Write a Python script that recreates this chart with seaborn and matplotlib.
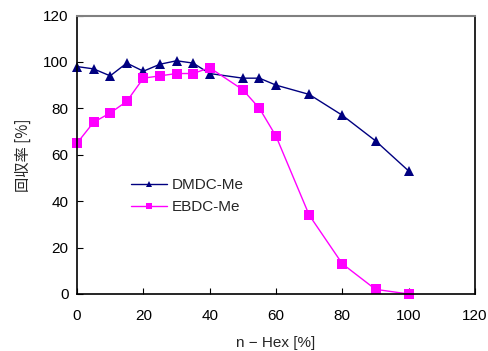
import matplotlib
matplotlib.use("Agg")
import matplotlib.pyplot as plt
import seaborn as sns
import pandas as pd

x_vals = [0, 5, 10, 15, 20, 25, 30, 35, 40, 50, 55, 60, 70, 80, 90, 100]
dmdc_me = [98, 97, 94, 99.5, 96, 99, 100.5, 99.5, 95, 93, 93, 90, 86, 77, 66, 53]
ebdc_me = [65, 74, 78, 83, 93, 94, 95, 95, 97.5, 88, 80, 68, 34, 13, 2, 0]
series_names = ["DMDC-Me", "EBDC-Me"]
x_ticks = [0, 20, 40, 60, 80, 100, 120]
y_ticks = [0, 20, 40, 60, 80, 100, 120]

df = pd.DataFrame({
    "x": x_vals * 2,
    "y": dmdc_me + ebdc_me,
    "series": [series_names[0]] * len(x_vals) + [series_names[1]] * len(x_vals),
})

sns.set_theme(style="white")
plt.rcParams["font.family"] = ["Liberation Sans", "Noto Sans CJK JP", "DejaVu Sans"]

fig = plt.figure(figsize=(4.89, 3.51), dpi=100)
ax = fig.add_axes([0.1575, 0.1624, 0.8139, 0.7934])

palette = {"DMDC-Me": "#000080", "EBDC-Me": "#FF00FF"}
markers = {"DMDC-Me": "^", "EBDC-Me": "s"}
sns.lineplot(data=df, x="x", y="y", hue="series", style="series",
             palette=palette, markers=markers, dashes=False,
             markersize=6.5, linewidth=1.0, markeredgewidth=0,
             ax=ax, clip_on=False)

fs = 11
ax.set_xlim(0, 120)
ax.set_ylim(0, 120)
ax.set_xticks(x_ticks)
ax.set_yticks(y_ticks)
ax.tick_params(direction="in", length=4, width=0.8, labelsize=fs, colors="black",
               bottom=True, left=True, pad=6)
ax.tick_params(axis="x", pad=11)
for side in ["left", "bottom", "right"]:
    ax.spines[side].set_color("black")
    ax.spines[side].set_linewidth(1.2)
ax.spines["top"].set_color("#808080")
ax.spines["top"].set_linewidth(1.5)

ax.set_xlabel("n − Hex [%]", fontsize=fs, labelpad=9)
ax.set_ylabel("回収率 [%]", fontsize=fs, labelpad=8,
              family=["Noto Sans CJK JP", "DejaVu Sans"])

leg = ax.legend(loc="upper left", bbox_to_anchor=(0.10, 0.465), frameon=False,
                fontsize=fs, handlelength=2.4, labelspacing=0.5, handletextpad=0.3)
for h in leg.legend_handles:
    h.set_markersize(5)

fig.savefig("out.png", dpi=100)
